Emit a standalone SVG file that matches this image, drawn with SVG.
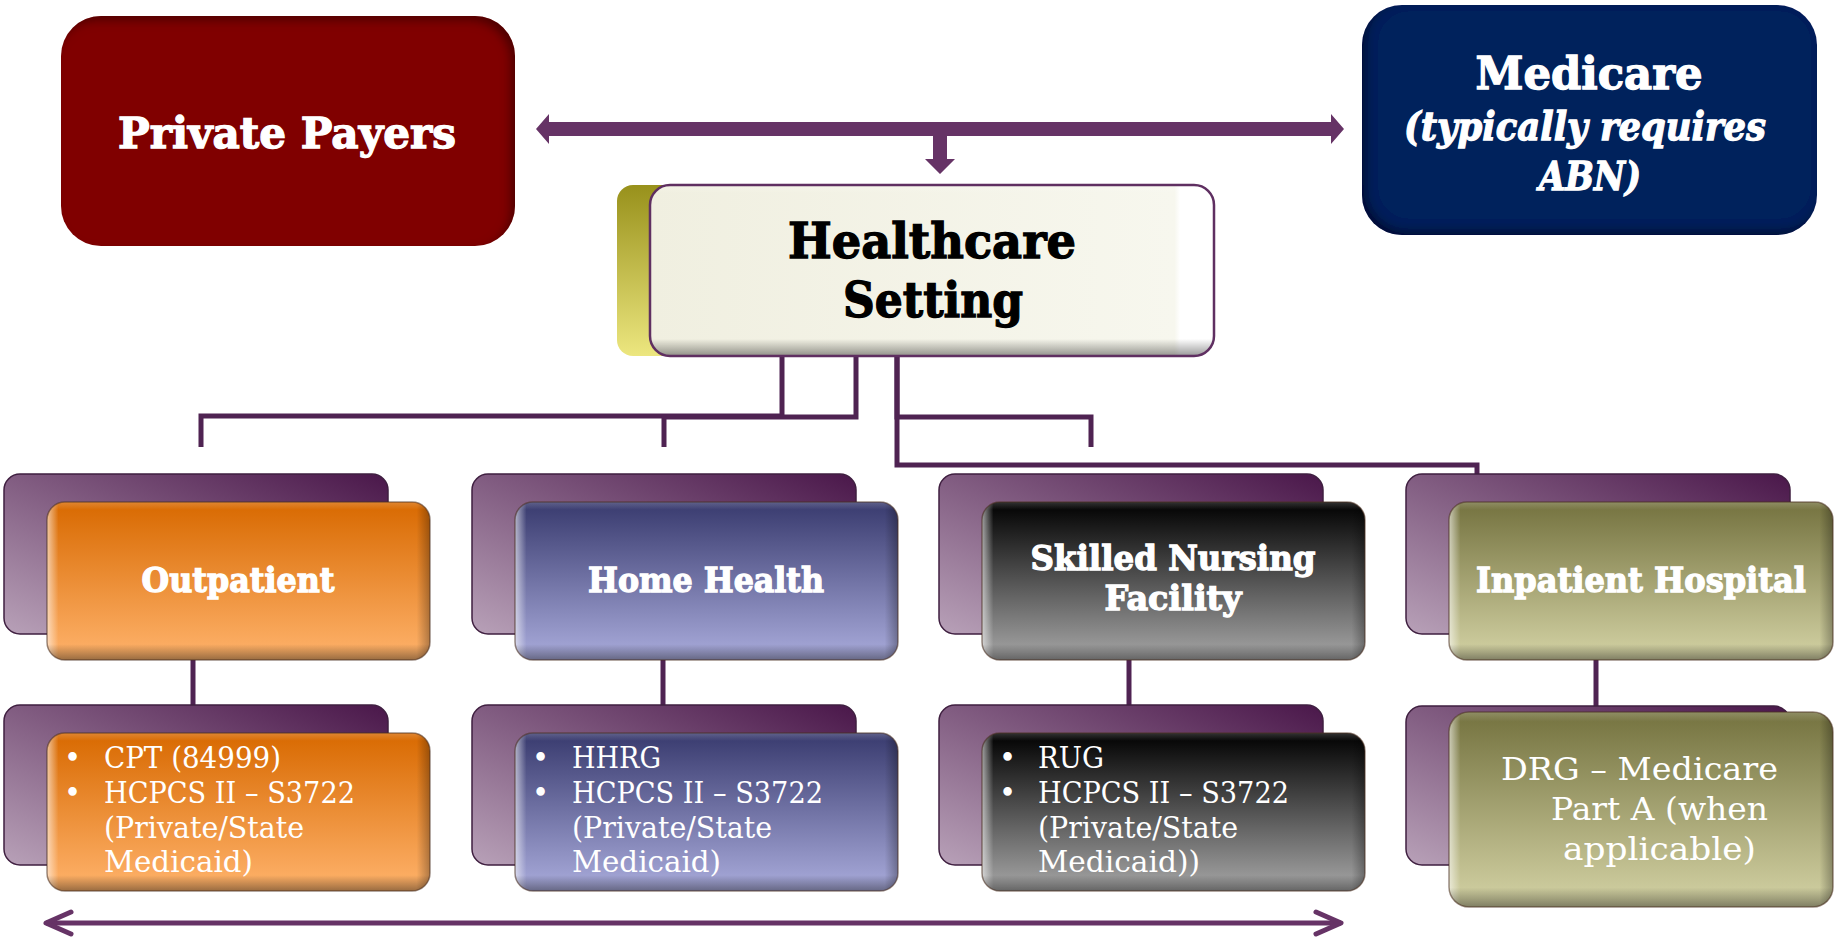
<svg xmlns="http://www.w3.org/2000/svg" width="1835" height="944" viewBox="0 0 1835 944">
  <defs>
    <style>
      .title { font-family: "DejaVu Serif", "Liberation Serif", serif; font-weight: bold; fill: #ffffff; stroke: #ffffff; stroke-width: 1.3; text-anchor: middle; }
      .dark { fill: #000000; stroke: #000000; }
      .body { font-family: "DejaVu Serif", "Liberation Serif", serif; fill: #ffffff; font-size: 29px; }
      .conn { fill: none; stroke: #4f2352; stroke-width: 5; stroke-linejoin: miter; }
      .back { fill: url(#gBack); stroke: #3f1f40; stroke-width: 1.5; }
      .edgeX { fill: url(#gEdgeX); }
      .edgeY { fill: url(#gEdgeY); stroke: #4a3020; stroke-opacity: 0.55; stroke-width: 1.5; }
    </style>
    <linearGradient id="gBack" x1="1" y1="0" x2="0" y2="1">
      <stop offset="0" stop-color="#4a174a"/>
      <stop offset="1" stop-color="#b8a1b8"/>
    </linearGradient>
    <linearGradient id="gOrange" x1="0" y1="0" x2="0" y2="1">
      <stop offset="0" stop-color="#d86900"/>
      <stop offset="1" stop-color="#ffb36c"/>
    </linearGradient>
    <linearGradient id="gSlate" x1="0" y1="0" x2="0" y2="1">
      <stop offset="0" stop-color="#383a6e"/>
      <stop offset="1" stop-color="#aaacdc"/>
    </linearGradient>
    <linearGradient id="gGray" x1="0" y1="0" x2="0" y2="1">
      <stop offset="0" stop-color="#000000"/>
      <stop offset="1" stop-color="#a7a7a7"/>
    </linearGradient>
    <linearGradient id="gKhaki" x1="0" y1="0" x2="0" y2="1">
      <stop offset="0" stop-color="#74723f"/>
      <stop offset="1" stop-color="#d4d3a5"/>
    </linearGradient>
    <linearGradient id="gOlive" x1="0" y1="0" x2="0" y2="1">
      <stop offset="0" stop-color="#98911b"/>
      <stop offset="1" stop-color="#ece67f"/>
    </linearGradient>
    <linearGradient id="gCream" x1="0" y1="0" x2="1" y2="0">
      <stop offset="0" stop-color="#f0efe0"/>
      <stop offset="0.93" stop-color="#f7f7ee"/>
      <stop offset="0.94" stop-color="#ffffff"/>
      <stop offset="1" stop-color="#ffffff"/>
    </linearGradient>
    <linearGradient id="gEdgeX" x1="0" y1="0" x2="1" y2="0">
      <stop offset="0" stop-color="#ffffff" stop-opacity="0.6"/>
      <stop offset="0.03" stop-color="#ffffff" stop-opacity="0"/>
      <stop offset="0.965" stop-color="#000000" stop-opacity="0"/>
      <stop offset="1" stop-color="#000000" stop-opacity="0.3"/>
    </linearGradient>
    <linearGradient id="gEdgeY" x1="0" y1="0" x2="0" y2="1">
      <stop offset="0" stop-color="#ffffff" stop-opacity="0.2"/>
      <stop offset="0.05" stop-color="#ffffff" stop-opacity="0"/>
      <stop offset="0.9" stop-color="#000000" stop-opacity="0"/>
      <stop offset="1" stop-color="#000000" stop-opacity="0.4"/>
    </linearGradient>
    <!-- inner shadow along the top and right edges -->
    <filter id="insetTR" x="-5%" y="-5%" width="110%" height="110%">
      <feComponentTransfer in="SourceAlpha" result="inv">
        <feFuncA type="table" tableValues="1 0"/>
      </feComponentTransfer>
      <feGaussianBlur in="inv" stdDeviation="5"/>
      <feOffset dx="-5" dy="5" result="sh"/>
      <feFlood flood-color="#000000" flood-opacity="0.65"/>
      <feComposite operator="in" in2="sh"/>
      <feComposite operator="in" in2="SourceAlpha" result="inner"/>
      <feMerge><feMergeNode in="SourceGraphic"/><feMergeNode in="inner"/></feMerge>
    </filter>
    <!-- inner shadow along the left and bottom edges -->
    <filter id="insetBL" x="-5%" y="-5%" width="110%" height="110%">
      <feComponentTransfer in="SourceAlpha" result="inv">
        <feFuncA type="table" tableValues="1 0"/>
      </feComponentTransfer>
      <feGaussianBlur in="inv" stdDeviation="5"/>
      <feOffset dx="5" dy="-5" result="sh"/>
      <feFlood flood-color="#000000" flood-opacity="0.65"/>
      <feComposite operator="in" in2="sh"/>
      <feComposite operator="in" in2="SourceAlpha" result="inner"/>
      <feMerge><feMergeNode in="SourceGraphic"/><feMergeNode in="inner"/></feMerge>
    </filter>
    <marker id="openHead" viewBox="-30 -15 34 30" refX="0" refY="0" markerWidth="34" markerHeight="30" markerUnits="userSpaceOnUse" orient="auto-start-reverse">
      <path d="M-25,-11 L0,0 L-25,11" fill="none" stroke="#663366" stroke-width="5" stroke-linecap="round" stroke-linejoin="round"/>
    </marker>
  </defs>

  <rect width="1835" height="944" fill="#ffffff"/>

  <!-- connectors -->
  <g id="connectors">
    <!-- payer arrow with drop to the setting box -->
    <polygon fill="#663366" points="536,129 549,114 549,122 933,122 1331,122 1331,114 1344,129 1331,144 1331,136 947,136 947,159 955,159 940,174 925,159 933,159 933,136 549,136 549,144"/>
    <path class="conn" d="M782,356 V416 H201 V447"/>
    <path class="conn" d="M856,356 V417 H664 V447"/>
    <path class="conn" d="M897,356 V417 H1091 V447"/>
    <path class="conn" d="M897,356 V465 H1477 V476"/>
    <line class="conn" x1="193" y1="660" x2="193" y2="705"/>
    <line class="conn" x1="663" y1="660" x2="663" y2="705"/>
    <line class="conn" x1="1129" y1="660" x2="1129" y2="705"/>
    <line class="conn" x1="1596" y1="660" x2="1596" y2="712"/>
    <!-- reimbursement spectrum arrow -->
    <path d="M46,923 H1341" fill="none" stroke="#663366" stroke-width="5" marker-start="url(#openHead)" marker-end="url(#openHead)"/>
  </g>

  <g id="private-payers">
    <rect x="61" y="16" width="454" height="230" rx="40" fill="#800000" filter="url(#insetTR)"/>
    <text class="title" x="287" y="148" font-size="43" textLength="338" lengthAdjust="spacingAndGlyphs">Private Payers</text>
  </g>

  <g id="medicare">
    <rect x="1362" y="5" width="455" height="230" rx="40" fill="#00205c" filter="url(#insetBL)"/>
    <text class="title" x="1589" y="89" font-size="44" textLength="227" lengthAdjust="spacingAndGlyphs">Medicare</text>
    <text class="title" x="1585" y="140" font-size="40" font-style="italic" textLength="362" lengthAdjust="spacingAndGlyphs">(typically requires</text>
    <text class="title" x="1590" y="190" font-size="40" font-style="italic" textLength="102" lengthAdjust="spacingAndGlyphs">ABN)</text>
  </g>

  <g id="healthcare-setting">
    <rect x="617" y="185" width="120" height="171" rx="16" fill="url(#gOlive)"/>
    <rect x="650" y="185" width="564" height="171" rx="20" fill="url(#gCream)"/>
    <rect x="650" y="185" width="564" height="171" rx="20" fill="url(#gEdgeY)" stroke="#5f2f61" stroke-width="2.5"/>
    <text class="title dark" x="932" y="258" font-size="48" textLength="288" lengthAdjust="spacingAndGlyphs">Healthcare</text>
    <text class="title dark" x="933" y="317" font-size="48" textLength="180" lengthAdjust="spacingAndGlyphs">Setting</text>
  </g>

  <!-- Outpatient column -->
  <g id="outpatient">
    <rect class="back" x="4" y="474" width="384" height="160" rx="16"/>
    <rect x="47" y="502" width="383" height="158" rx="18" fill="url(#gOrange)"/>
    <rect class="edgeX" x="47" y="502" width="383" height="158" rx="18"/>
    <rect class="edgeY" x="47" y="502" width="383" height="158" rx="18"/>
    <text class="title" x="238" y="592" font-size="34" textLength="193" lengthAdjust="spacingAndGlyphs">Outpatient</text>
  </g>
  <g id="outpatient-codes">
    <rect class="back" x="4" y="705" width="384" height="160" rx="16"/>
    <rect x="47" y="733" width="383" height="158" rx="18" fill="url(#gOrange)"/>
    <rect class="edgeX" x="47" y="733" width="383" height="158" rx="18"/>
    <rect class="edgeY" x="47" y="733" width="383" height="158" rx="18"/>
    <text class="body" x="64" y="768">•</text>
    <text class="body" x="64" y="803">•</text>
    <text class="body" x="104" y="768" textLength="177" lengthAdjust="spacingAndGlyphs">CPT (84999)</text>
    <text class="body" x="104" y="803" textLength="251" lengthAdjust="spacingAndGlyphs">HCPCS II – S3722</text>
    <text class="body" x="104" y="838" textLength="200" lengthAdjust="spacingAndGlyphs">(Private/State</text>
    <text class="body" x="104" y="872" textLength="149" lengthAdjust="spacingAndGlyphs">Medicaid)</text>
  </g>

  <!-- Home Health column -->
  <g id="home-health">
    <rect class="back" x="472" y="474" width="384" height="160" rx="16"/>
    <rect x="515" y="502" width="383" height="158" rx="18" fill="url(#gSlate)"/>
    <rect class="edgeX" x="515" y="502" width="383" height="158" rx="18"/>
    <rect class="edgeY" x="515" y="502" width="383" height="158" rx="18"/>
    <text class="title" x="706" y="592" font-size="34" textLength="236" lengthAdjust="spacingAndGlyphs">Home Health</text>
  </g>
  <g id="home-health-codes">
    <rect class="back" x="472" y="705" width="384" height="160" rx="16"/>
    <rect x="515" y="733" width="383" height="158" rx="18" fill="url(#gSlate)"/>
    <rect class="edgeX" x="515" y="733" width="383" height="158" rx="18"/>
    <rect class="edgeY" x="515" y="733" width="383" height="158" rx="18"/>
    <text class="body" x="532" y="768">•</text>
    <text class="body" x="532" y="803">•</text>
    <text class="body" x="572" y="768" textLength="89" lengthAdjust="spacingAndGlyphs">HHRG</text>
    <text class="body" x="572" y="803" textLength="251" lengthAdjust="spacingAndGlyphs">HCPCS II – S3722</text>
    <text class="body" x="572" y="838" textLength="200" lengthAdjust="spacingAndGlyphs">(Private/State</text>
    <text class="body" x="572" y="872" textLength="149" lengthAdjust="spacingAndGlyphs">Medicaid)</text>
  </g>

  <!-- Skilled Nursing Facility column -->
  <g id="skilled-nursing">
    <rect class="back" x="939" y="474" width="384" height="160" rx="16"/>
    <rect x="982" y="502" width="383" height="158" rx="18" fill="url(#gGray)"/>
    <rect class="edgeX" x="982" y="502" width="383" height="158" rx="18"/>
    <rect class="edgeY" x="982" y="502" width="383" height="158" rx="18"/>
    <text class="title" x="1173" y="570" font-size="34" textLength="285" lengthAdjust="spacingAndGlyphs">Skilled Nursing</text>
    <text class="title" x="1173" y="610" font-size="34" textLength="137" lengthAdjust="spacingAndGlyphs">Facility</text>
  </g>
  <g id="skilled-nursing-codes">
    <rect class="back" x="939" y="705" width="384" height="160" rx="16"/>
    <rect x="982" y="733" width="383" height="158" rx="18" fill="url(#gGray)"/>
    <rect class="edgeX" x="982" y="733" width="383" height="158" rx="18"/>
    <rect class="edgeY" x="982" y="733" width="383" height="158" rx="18"/>
    <text class="body" x="999" y="768">•</text>
    <text class="body" x="999" y="803">•</text>
    <text class="body" x="1038" y="768" textLength="66" lengthAdjust="spacingAndGlyphs">RUG</text>
    <text class="body" x="1038" y="803" textLength="251" lengthAdjust="spacingAndGlyphs">HCPCS II – S3722</text>
    <text class="body" x="1038" y="838" textLength="200" lengthAdjust="spacingAndGlyphs">(Private/State</text>
    <text class="body" x="1038" y="872" textLength="162" lengthAdjust="spacingAndGlyphs">Medicaid))</text>
  </g>

  <!-- Inpatient Hospital column -->
  <g id="inpatient-hospital">
    <rect class="back" x="1406" y="474" width="384" height="160" rx="16"/>
    <rect x="1449" y="502" width="384" height="158" rx="18" fill="url(#gKhaki)"/>
    <rect class="edgeX" x="1449" y="502" width="384" height="158" rx="18"/>
    <rect class="edgeY" x="1449" y="502" width="384" height="158" rx="18"/>
    <text class="title" x="1641" y="592" font-size="34" textLength="330" lengthAdjust="spacingAndGlyphs">Inpatient Hospital</text>
  </g>
  <g id="inpatient-hospital-codes">
    <rect class="back" x="1406" y="706" width="384" height="159" rx="16"/>
    <rect x="1449" y="712" width="384" height="195" rx="20" fill="url(#gKhaki)"/>
    <rect class="edgeX" x="1449" y="712" width="384" height="195" rx="20"/>
    <rect class="edgeY" x="1449" y="712" width="384" height="195" rx="20"/>
    <text class="body" style="font-size:32px" x="1501" y="780" textLength="277" lengthAdjust="spacingAndGlyphs">DRG – Medicare</text>
    <text class="body" style="font-size:32px" x="1551" y="820" textLength="217" lengthAdjust="spacingAndGlyphs">Part A (when</text>
    <text class="body" style="font-size:32px" x="1563" y="860" textLength="193" lengthAdjust="spacingAndGlyphs">applicable)</text>
  </g>
</svg>
